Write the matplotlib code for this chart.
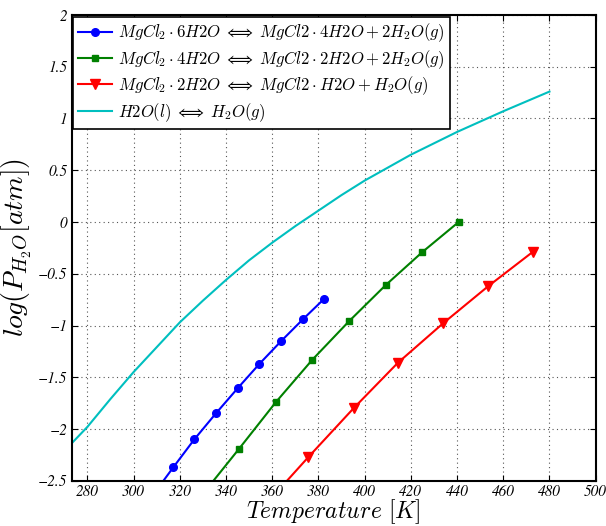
import matplotlib
matplotlib.use("Agg")
import matplotlib.pyplot as plt
from matplotlib.ticker import FuncFormatter

plt.rcParams['mathtext.fontset'] = 'cm'

# Data
T_6h = [308.0, 317.2, 326.3, 335.6, 345.3, 354.5, 363.9, 373.3, 382.6]
P_6h = [-2.65, -2.37, -2.10, -1.85, -1.60, -1.37, -1.15, -0.94, -0.74]

T_4h = [329.9, 345.7, 361.6, 377.4, 393.2, 409.1, 425.0, 440.7]
P_4h = [-2.63, -2.19, -1.74, -1.33, -0.96, -0.61, -0.29, 0.00]

T_2h = [356.3, 375.7, 395.2, 414.4, 433.9, 453.5, 472.7]
P_2h = [-2.75, -2.27, -1.80, -1.36, -0.98, -0.62, -0.29]

T_w = [273.15, 280, 290, 300, 310, 320, 330, 340, 350, 360, 370, 380, 390,
       400, 420, 440, 460, 480]
P_w = [-2.14, -1.98, -1.71, -1.45, -1.21, -0.97, -0.76, -0.56, -0.37, -0.20,
       -0.04, 0.11, 0.26, 0.40, 0.65, 0.87, 1.07, 1.26]

labels = [
    r'$MgCl_2\cdot 6H2O\;\Longleftrightarrow\;MgCl2\cdot 4H2O+2H_2O(g)$',
    r'$MgCl_2\cdot 4H2O\;\Longleftrightarrow\;MgCl2\cdot 2H2O+2H_2O(g)$',
    r'$MgCl_2\cdot 2H2O\;\Longleftrightarrow\;MgCl2\cdot H2O+H_2O(g)$',
    r'$H2O(l)\;\Longleftrightarrow\;H_2O(g)$',
]

xticks = list(range(280, 501, 20))
yticks = [-2.5, -2, -1.5, -1, -0.5, 0, 0.5, 1, 1.5, 2]

fig = plt.figure(figsize=(6.06, 5.26), dpi=100)
ax = fig.add_axes([0.118, 0.086, 0.865, 0.8855])

ax.plot(T_6h, P_6h, '-o', color='#0000ff', lw=1.5, ms=5.5, label=labels[0])
ax.plot(T_4h, P_4h, '-s', color='#008000', lw=1.5, ms=5, label=labels[1])
ax.plot(T_2h, P_2h, '-v', color='#ff0000', lw=1.5, ms=7, label=labels[2])
ax.plot(T_w, P_w, '-', color='#00bfbf', lw=1.5, label=labels[3])

ax.set_xlim(273.15, 500)
ax.set_ylim(-2.5, 2)
ax.set_xticks(xticks)
ax.set_yticks(yticks)

def fmt(v, pos):
    s = ('%g' % v).replace('-', '\u2212')
    return s

ax.xaxis.set_major_formatter(FuncFormatter(fmt))
ax.yaxis.set_major_formatter(FuncFormatter(fmt))
for lab in ax.get_xticklabels() + ax.get_yticklabels():
    lab.set_fontfamily('STIXGeneral')
    lab.set_fontstyle('italic')
    lab.set_fontsize(11)

ax.tick_params(direction='in', top=True, right=True, length=4, width=0.8,
               pad=3)
ax.grid(True, linestyle=(0, (1, 3)), color='#555555', lw=0.8)
for sp in ax.spines.values():
    sp.set_linewidth(1.5)

ax.set_xlabel(r'$Temperature\ [K]$', fontsize=17, labelpad=-1)
ax.set_ylabel(r'$log(P_{H_2O}[atm])$', fontsize=20, labelpad=3)

leg = ax.legend(loc='upper left', fontsize=12, numpoints=1, fancybox=False,
                framealpha=1, edgecolor='k', borderaxespad=0.1,
                labelspacing=0.22, handletextpad=0.4, borderpad=0.3)
leg.get_frame().set_linewidth(1.2)

fig.savefig('out.png', dpi=100)
